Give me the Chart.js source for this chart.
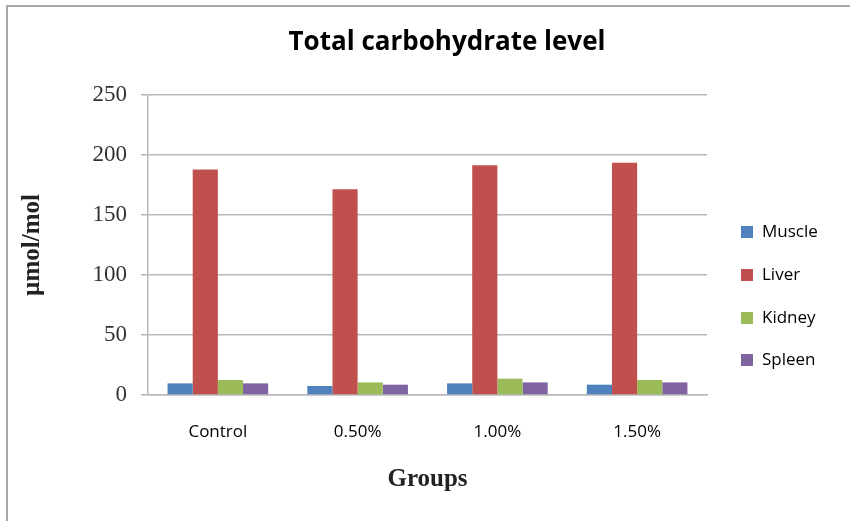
<!DOCTYPE html>
<html>
<head>
<meta charset="utf-8">
<script src="https://cdn.jsdelivr.net/npm/chart.js@4/dist/chart.umd.min.js"></script>
<style>
  body { margin: 0; background: #fff; width: 850px; height: 521px; overflow: hidden; position: relative; }
  #frame { position: absolute; left: 6px; top: 5px; width: 900px; height: 600px; border-left: 2px solid #a8a8a8; border-top: 2px solid #a8a8a8; }
  #chart { position: absolute; left: 0; top: 0; }
  #title { position: absolute; left: 0; width: 894px; top: 22px; text-align: center; font: bold 26px "Open Sans", sans-serif; color: #000; }
  #legend { position: absolute; left: 741px; top: 0; font: 17px "Open Sans", sans-serif; color: #000; }
  .item { position: absolute; left: 0; white-space: nowrap; }
  .box { position: absolute; left: 0; width: 12px; height: 12px; }
  .lbl { position: absolute; left: 21px; line-height: 20px; top: -5px; }
</style>
</head>
<body>
<div id="frame"></div>
<canvas id="chart" width="850" height="521"></canvas>
<div id="title">Total carbohydrate level</div>
<div id="legend"></div>
<script>
const groups = ["Control", "0.50%", "1.00%", "1.50%"];
const seriesNames = ["Muscle", "Liver", "Kidney", "Spleen"];
const muscle = [9.7, 7.5, 9.7, 8.6];
const liver = [188, 171.5, 191.5, 193.5];
const kidney = [12.5, 10.5, 13.6, 12.5];
const spleen = [9.7, 8.6, 10.5, 10.5];
const colors = ["#4f81bd", "#c0504d", "#9bbb59", "#8064a2"];
const legendY = [232, 275, 318, 360];

const values = [muscle, liver, kidney, spleen];
const gridColor = "#b8b8b8";

const chart = new Chart(document.getElementById("chart"), {
  type: "bar",
  data: {
    labels: groups,
    datasets: seriesNames.map((name, i) => ({
      label: name,
      data: values[i],
      backgroundColor: colors[i],
      categoryPercentage: 0.72,
      barPercentage: 1.0
    }))
  },
  options: {
    responsive: false,
    animation: false,
    devicePixelRatio: 1,
    layout: { padding: { left: 16, right: 143, top: 95, bottom: 20 } },
    plugins: {
      legend: { display: false },
      title: { display: false },
      tooltip: { enabled: false }
    },
    scales: {
      x: {
        grid: { display: false },
        border: { display: true, color: gridColor, width: 1.5 },
        ticks: { color: "#000", padding: 19, font: { family: "Open Sans", size: 17 } },
        title: {
          display: true, text: "Groups", color: "#222",
          font: { family: "Liberation Serif", size: 25, weight: "bold" },
          padding: { top: 0, bottom: 6 }
        },
        afterFit: (scale) => { scale.height = 106; }
      },
      y: {
        min: 0,
        max: 250,
        ticks: { stepSize: 50, color: "#333", padding: 14, font: { family: "Liberation Serif", size: 23 } },
        grid: { color: gridColor, lineWidth: 1.5, tickLength: 7, drawTicks: true },
        border: { display: true, color: gridColor, width: 1.5 },
        title: {
          display: true, text: "µmol/mol", color: "#222",
          font: { family: "Liberation Serif", size: 25, weight: "bold" },
          padding: { top: 2, bottom: 0 }
        },
        afterFit: (scale) => { scale.width = 132; }
      }
    }
  }
});

const legend = document.getElementById("legend");
seriesNames.forEach((name, i) => {
  const item = document.createElement("div");
  item.className = "item";
  item.style.top = (legendY[i] - 6) + "px";
  item.innerHTML = `<span class="box" style="background:${colors[i]}"></span><span class="lbl">${name}</span>`;
  legend.appendChild(item);
});
</script>
</body>
</html>
